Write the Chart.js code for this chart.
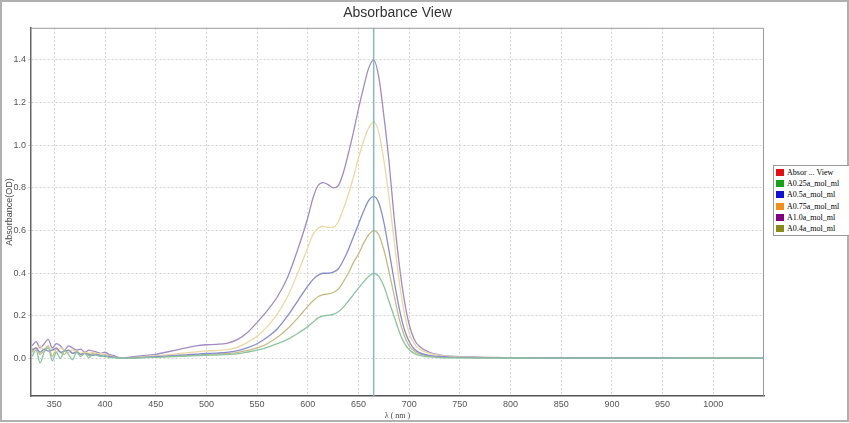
<!DOCTYPE html>
<html>
<head>
<meta charset="utf-8">
<script src="https://cdn.jsdelivr.net/npm/chart.js@4.4.1/dist/chart.umd.min.js"></script>
<style>
  html, body { margin: 0; padding: 0; background: #fff; overflow: hidden; }
  #wrap { position: relative; width: 849px; height: 423px; }
  #legend {
    position: absolute; left: 773px; top: 165px; width: 84px;
    border: 1px solid #999; background: #fff;
    font: 8px "Liberation Serif", "DejaVu Serif", serif; color: #000;
    padding: 1px 0 1px 2px; line-height: 11.2px;
  }
  #legend div { white-space: nowrap; }
  #legend span { display: inline-block; width: 8px; height: 7px; margin-right: 3px; vertical-align: -1px; }
</style>
</head>
<body>
<div id="wrap">
  <canvas id="absChart" width="849" height="423"></canvas>
  <div id="legend"></div>
</div>
<script>
// wavelength (nm) shared by every series
const wavelengths = [
  328, 332, 336, 340, 344, 348, 352, 356, 360, 364, 368, 372, 376, 380, 384, 388, 392, 396, 400, 404, 408,
  415, 420,
  430, 440, 450, 460, 470, 480, 490, 500, 510, 520, 530, 540, 550, 560, 570, 580, 590, 600,
  605, 610, 615, 620, 625, 630, 635, 640, 645, 650, 655, 660, 665, 670, 675, 680, 685, 690, 695, 700, 705, 710,
  720, 730, 740, 750, 775, 800, 850, 900, 950, 1000, 1050
];

const a025 = [
  0.01, 0.04, -0.02, 0.03, 0.05, -0.01, 0.03, 0.0, 0.04, 0.02, -0.005, 0.03, 0.01, 0.025, 0.005, 0.02, 0.015, 0.01, 0.015, 0.005, 0.005,
  0.001, 0.002,
  0.003, 0.005, 0.006, 0.008, 0.01, 0.012, 0.014, 0.016, 0.017, 0.019, 0.022, 0.03, 0.04, 0.053, 0.07, 0.09, 0.118, 0.15,
  0.17, 0.19, 0.2, 0.203, 0.207, 0.22, 0.24, 0.27, 0.3, 0.33, 0.36, 0.385, 0.4, 0.385, 0.34, 0.27, 0.2, 0.13, 0.075, 0.042, 0.025, 0.015,
  0.008, 0.005, 0.004, 0.004, 0.003, 0.003, 0.002, 0.002, 0.002, 0.002, 0.002
];
const a05 = [
  0.04, 0.05, 0.03, 0.045, 0.035, 0.04, 0.05, 0.03, 0.035, 0.04, 0.025, 0.03, 0.02, 0.025, 0.02, 0.015, 0.02, 0.015, 0.01, 0.012, 0.008,
  0.002, 0.003,
  0.005, 0.007, 0.01, 0.012, 0.015, 0.018, 0.021, 0.024, 0.026, 0.029, 0.036, 0.05, 0.07, 0.1, 0.14, 0.2, 0.27, 0.34,
  0.37, 0.39, 0.4, 0.4, 0.405, 0.42, 0.46, 0.51, 0.57, 0.63, 0.69, 0.74, 0.76, 0.73, 0.64, 0.51, 0.37, 0.24, 0.14, 0.08, 0.045, 0.028,
  0.015, 0.01, 0.007, 0.006, 0.005, 0.004, 0.003, 0.003, 0.003, 0.002, 0.002
];
const a075 = [
  0.05, 0.04, 0.06, 0.035, 0.05, 0.045, 0.03, 0.05, 0.04, 0.03, 0.04, 0.035, 0.025, 0.03, 0.025, 0.03, 0.02, 0.025, 0.015, 0.015, 0.01,
  0.003, 0.004,
  0.006, 0.01, 0.013, 0.018, 0.022, 0.027, 0.032, 0.036, 0.038, 0.042, 0.052, 0.075, 0.105, 0.15, 0.21, 0.29, 0.4, 0.52,
  0.58, 0.61, 0.62, 0.615, 0.615, 0.64, 0.7, 0.77, 0.85, 0.94, 1.02, 1.08, 1.11, 1.06, 0.93, 0.76, 0.56, 0.37, 0.22, 0.12, 0.07, 0.045,
  0.025, 0.015, 0.01, 0.008, 0.006, 0.005, 0.004, 0.004, 0.003, 0.003, 0.003
];
const a10 = [
  0.06, 0.08, 0.05, 0.07, 0.09, 0.05, 0.07, 0.06, 0.04, 0.06, 0.05, 0.04, 0.045, 0.03, 0.04, 0.035, 0.03, 0.025, 0.03, 0.02, 0.015,
  0.005, 0.005,
  0.01, 0.015, 0.02, 0.03, 0.04, 0.05, 0.06, 0.065, 0.067, 0.072, 0.088, 0.12, 0.17, 0.225, 0.29, 0.38, 0.51, 0.66,
  0.75, 0.81, 0.825, 0.815, 0.8, 0.81, 0.87, 0.96, 1.06, 1.17, 1.27, 1.36, 1.4, 1.32, 1.14, 0.93, 0.67, 0.45, 0.28, 0.16, 0.09, 0.058,
  0.03, 0.018, 0.012, 0.009, 0.006, 0.005, 0.004, 0.004, 0.003, 0.003, 0.003
];
const a04 = [
  0.03, 0.05, 0.02, 0.04, 0.06, 0.01, 0.045, 0.03, 0.02, 0.04, 0.025, 0.035, 0.02, 0.03, 0.015, 0.025, 0.02, 0.015, 0.02, 0.01, 0.008,
  0.002, 0.002,
  0.004, 0.006, 0.008, 0.01, 0.012, 0.014, 0.017, 0.02, 0.022, 0.024, 0.028, 0.038, 0.05, 0.07, 0.1, 0.14, 0.19, 0.245,
  0.27, 0.29, 0.3, 0.303, 0.31, 0.325, 0.36, 0.4, 0.45, 0.49, 0.54, 0.58, 0.6, 0.58, 0.51, 0.41, 0.3, 0.19, 0.11, 0.06, 0.035, 0.022,
  0.012, 0.008, 0.006, 0.005, 0.004, 0.003, 0.003, 0.003, 0.002, 0.002, 0.002
];

const seriesNames = ["Absor ... View", "A0.25a_mol_ml", "A0.5a_mol_ml", "A0.75a_mol_ml", "A1.0a_mol_ml", "A0.4a_mol_ml"];
const legendColors = ["#e01010", "#18a018", "#1010d0", "#f0901c", "#800080", "#8a8a18"];
const lineColors = ["#e01010", "#8cc4a0", "#8a8ccc", "#ecd8a4", "#a08cc4", "#c4bc84"];
const seriesValues = [[], a025, a05, a075, a10, a04];

const xTicks = [350, 400, 450, 500, 550, 600, 650, 700, 750, 800, 850, 900, 950, 1000];
const yTicks = [0.0, 0.2, 0.4, 0.6, 0.8, 1.0, 1.2, 1.4];
const cursorNm = 665;

const datasets = seriesValues.map((vals, i) => ({
  label: seriesNames[i],
  data: vals.map((v, k) => ({ x: wavelengths[k], y: v })),
  borderColor: lineColors[i],
  borderWidth: 1.3,
  pointRadius: 0,
  cubicInterpolationMode: "monotone",
  fill: false
}));

// html legend
const legendEl = document.getElementById("legend");
seriesNames.forEach((n, i) => {
  const row = document.createElement("div");
  row.innerHTML = '<span style="background:' + legendColors[i] + '"></span>' + n;
  legendEl.appendChild(row);
});

const framePlugin = {
  id: "frame",
  beforeDraw(chart) {
    const c = chart.ctx;
    c.save();
    c.fillStyle = "#fff";
    c.fillRect(0, 0, chart.width, chart.height);
    c.restore();
  },
  afterDatasetsDraw(chart) {
    const c = chart.ctx;
    const a = chart.chartArea;
    const x = chart.scales.x.getPixelForValue(cursorNm);
    c.save();
    // cursor line
    c.strokeStyle = "#86b8bc";
    c.lineWidth = 1.5;
    c.beginPath();
    c.moveTo(x, a.top);
    c.lineTo(x, a.bottom);
    c.stroke();
    // plot box
    c.strokeStyle = "#9a9a9a";
    c.lineWidth = 1;
    c.beginPath();
    c.moveTo(a.left, a.top + 0.5);
    c.lineTo(a.right - 0.5, a.top + 0.5);
    c.lineTo(a.right - 0.5, a.bottom);
    c.stroke();
    // outer frame
    c.strokeStyle = "#b0b0b0";
    c.lineWidth = 2;
    c.strokeRect(1, 1, chart.width - 2, chart.height - 3);
    c.restore();
  }
};

new Chart(document.getElementById("absChart"), {
  type: "line",
  data: { datasets: datasets },
  options: {
    responsive: false,
    animation: false,
    layout: { padding: { left: 0, right: 85, top: 0, bottom: 2 } },
    plugins: {
      legend: { display: false },
      tooltip: { enabled: false },
      title: {
        display: true,
        text: "Absorbance View",
        fullSize: false,
        color: "#333",
        font: { family: "Liberation Sans, Arial, sans-serif", size: 14, weight: "normal" },
        padding: { top: 5, bottom: 6 }
      }
    },
    scales: {
      x: {
        type: "linear",
        min: 327,
        max: 1050,
        afterBuildTicks: (s) => { s.ticks = xTicks.map(v => ({ value: v })); },
        afterFit: (s) => { s.height = 25; },
        ticks: {
          color: "#555",
          font: { family: "Liberation Sans, Arial, sans-serif", size: 9 },
          padding: 3,
          maxRotation: 0,
          callback: (v) => String(v)
        },
        grid: { color: "#d4d4d4", drawTicks: false },
        border: { color: "#555", width: 1.5, dash: [2, 2] },
        title: {
          display: true,
          text: "λ ( nm )",
          color: "#444",
          font: { family: "Liberation Serif, serif", size: 8 },
          padding: { top: 0, bottom: 0 }
        }
      },
      y: {
        type: "linear",
        min: -0.175,
        max: 1.55,
        afterBuildTicks: (s) => { s.ticks = yTicks.map(v => ({ value: v })); },
        afterFit: (s) => { s.width = 31; },
        ticks: {
          color: "#555",
          font: { family: "Liberation Sans, Arial, sans-serif", size: 9 },
          padding: 2,
          callback: (v) => v.toFixed(1)
        },
        grid: { color: "#d4d4d4", tickLength: 3 },
        border: { color: "#666", width: 1.5, dash: [2, 2] },
        title: {
          display: true,
          text: "Absorbance(OD)",
          color: "#444",
          font: { family: "Liberation Sans, Arial, sans-serif", size: 9 },
          padding: { top: 4, bottom: 0 }
        }
      }
    }
  },
  plugins: [framePlugin]
});
</script>
</body>
</html>
